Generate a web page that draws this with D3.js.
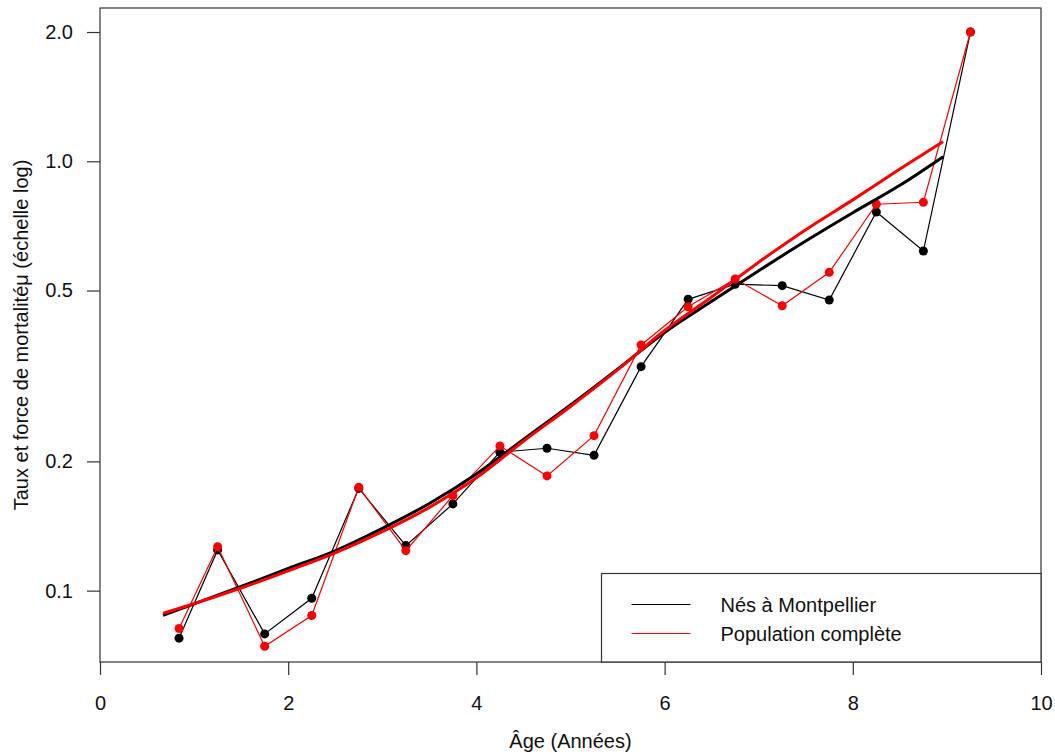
<!DOCTYPE html>
<html>
<head>
<meta charset="utf-8">
<script src="https://cdn.jsdelivr.net/npm/d3@7"></script>
<style>
  html, body { margin: 0; padding: 0; background: #fff; }
  svg { display: block; font-family: "Liberation Sans", Arial, sans-serif; }
</style>
</head>
<body>
<svg id="chart" width="1055" height="754"></svg>
<script>
// ---- data ----
const ages = [0.84, 1.25, 1.75, 2.25, 2.75, 3.25, 3.75, 4.25, 4.75, 5.25, 5.75, 6.25, 6.75, 7.25, 7.75, 8.25, 8.75, 9.25];
const montpellier = [0.0775, 0.1244, 0.0793, 0.0960, 0.173, 0.1273, 0.1592, 0.2101, 0.2146, 0.2067, 0.3324, 0.4770, 0.5172, 0.5133, 0.4753, 0.7620, 0.6180, 2.0];
const complete    = [0.0816, 0.1266, 0.0742, 0.0875, 0.174, 0.1239, 0.1664, 0.2173, 0.1850, 0.2296, 0.3735, 0.4583, 0.5318, 0.4607, 0.5513, 0.7942, 0.8027, 2.0];

const fitAges = [0.67, 1.0, 1.5, 2.0, 2.5, 3.0, 3.5, 4.0, 4.5, 5.0, 5.5, 6.0, 6.5, 7.0, 7.5, 8.0, 8.5, 8.96];
const fitMontpellier = [0.0876, 0.0931, 0.1023, 0.1126, 0.1238, 0.1396, 0.1596, 0.1870, 0.2249, 0.2706, 0.3280, 0.3994, 0.4720, 0.5560, 0.6520, 0.7590, 0.8790, 1.025];
const fitComplete    = [0.0885, 0.0933, 0.1014, 0.1112, 0.1225, 0.1372, 0.1563, 0.1832, 0.2228, 0.2685, 0.3266, 0.4036, 0.4830, 0.5820, 0.6930, 0.8130, 0.9590, 1.111];

const xTicks = [0, 2, 4, 6, 8, 10];
const yTicks = [0.1, 0.2, 0.5, 1.0, 2.0];

const seriesNames = ["Nés à Montpellier", "Population complète"];
const seriesColors = ["#000000", "#ff0000"];

// ---- layout ----
const svg = d3.select("#chart");
const L = 100, R = 1041, T = 8, B = 662;

const x = d3.scaleLinear().domain([0, 10]).range([L, R]);
const y = d3.scaleLog().domain([0.0682, 2.275]).range([B, T]);

// axes
const xAxis = d3.axisBottom(x).tickValues(xTicks).tickSize(13).tickPadding(21).tickFormat(d3.format("d"));
const yAxis = d3.axisLeft(y).tickValues(yTicks).tickSize(13).tickPadding(14).tickFormat(d3.format(".1f"));

const gx = svg.append("g").attr("transform", `translate(0,${B})`).call(xAxis);
const gy = svg.append("g").attr("transform", `translate(${L},0)`).call(yAxis);
[gx, gy].forEach(g => {
  g.select(".domain").remove();
  g.selectAll(".tick line").attr("stroke", "#333").attr("stroke-width", 1.2);
  g.selectAll(".tick text").attr("fill", "#111").style("font-size", "20px")
   .style("font-family", '"Liberation Sans", Arial, sans-serif');
});

// frame
svg.append("rect").attr("x", L).attr("y", T).attr("width", R - L).attr("height", B - T)
  .attr("fill", "none").attr("stroke", "#333").attr("stroke-width", 1.2);

// axis titles
svg.append("text").attr("x", (L + R) / 2).attr("y", 748).attr("text-anchor", "middle")
  .attr("fill", "#111").style("font-size", "20px").text("Âge (Années)");
svg.append("text").attr("transform", `translate(28,${(T + B) / 2}) rotate(-90)`)
  .attr("text-anchor", "middle").attr("fill", "#111").style("font-size", "20px")
  .text("Taux et force de mortalitéμ (échelle log)");

// ---- marks ----
const plot = svg.append("g");
const thinLine = d3.line().x(d => x(d[0])).y(d => y(d[1]));
const fitLine = d3.line().x(d => x(d[0])).y(d => y(d[1])).curve(d3.curveMonotoneX);

const obs = [d3.zip(ages, montpellier), d3.zip(ages, complete)];
const fits = [d3.zip(fitAges, fitMontpellier), d3.zip(fitAges, fitComplete)];

obs.forEach((pts, i) => {
  plot.append("path").attr("d", thinLine(pts)).attr("fill", "none")
    .attr("stroke", seriesColors[i]).attr("stroke-width", 1.2);
  plot.selectAll(null).data(pts).enter().append("circle")
    .attr("cx", d => x(d[0])).attr("cy", d => y(d[1])).attr("r", 4.5)
    .attr("fill", seriesColors[i]);
});
fits.forEach((pts, i) => {
  plot.append("path").attr("d", fitLine(pts)).attr("fill", "none")
    .attr("stroke", seriesColors[i]).attr("stroke-width", 3).attr("stroke-linejoin", "round");
});

// ---- legend ----
const lg = svg.append("g");
lg.append("rect").attr("x", 601.5).attr("y", 573.5).attr("width", R - 601.5).attr("height", B - 573.5)
  .attr("fill", "#fff").attr("stroke", "#333").attr("stroke-width", 1.2);
seriesNames.forEach((name, i) => {
  const yy = 604.5 + i * 29;
  lg.append("line").attr("x1", 631.5).attr("x2", 690.5).attr("y1", yy).attr("y2", yy)
    .attr("stroke", seriesColors[i]).attr("stroke-width", 1.2);
  lg.append("text").attr("x", 720.5).attr("y", yy + 7.5).attr("fill", "#111")
    .style("font-size", "20px").text(name);
});
</script>
</body>
</html>
